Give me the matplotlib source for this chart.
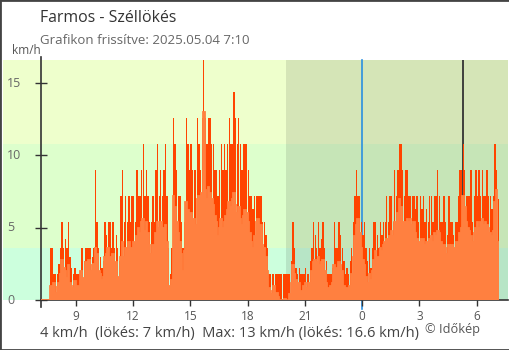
import numpy as np
import matplotlib
matplotlib.use('agg')
import matplotlib.pyplot as plt
import matplotlib.transforms as mtransforms
from matplotlib.patches import Rectangle

plt.rcParams['font.family'] = ['Open Sans', 'DejaVu Sans']

# 5-minute readings, 2025.05.03 7:10 -> 2025.05.04 7:10, one row per hour (km/h)
gust = [
    0, 0, 0, 0, 0, 0, 3.6, 3.6, 1.8, 1.8, 1.8, 2.5,               # 7:10
    3.6, 5.4, 3.6, 4.2, 3.6, 5.4, 3.0, 2.2, 1.8, 2.2, 1.8, 1.8,   # 8:10
    1.8, 3.6, 3.6, 2.7, 3.6, 3.6, 3.6, 3.6, 3.0, 3.6, 9.0, 5.4,   # 9:10
    3.6, 3.0, 2.2, 2.7, 5.4, 4.5, 5.4, 5.4, 3.6, 5.4, 3.6, 4.5,   # 10:10
    3.6, 2.7, 7.2, 9.0, 5.4, 7.2, 5.4, 7.2, 5.4, 7.2, 7.2, 5.4,   # 11:10
    9.0, 7.2, 7.2, 9.0, 10.8, 7.2, 9.0, 7.2, 5.4, 5.4, 7.2, 5.4,  # 12:10
    9.0, 10.8, 7.2, 9.0, 7.2, 9.0, 10.8, 7.2, 3.6, 1.8, 3.6, 12.6,  # 13:10
    10.8, 9.0, 7.2, 7.2, 5.4, 3.6, 5.4, 12.6, 10.8, 9.0, 10.8, 9.0,  # 14:10
    9.0, 9.0, 12.6, 10.8, 9.0, 12.6, 16.6, 12.6, 10.8, 12.6, 12.6, 10.8,  # 15:10
    10.8, 9.0, 9.0, 7.2, 9.0, 10.8, 9.0, 10.8, 9.0, 10.8, 12.6, 10.8,  # 16:10
    10.8, 14.4, 12.6, 10.8, 12.6, 10.8, 9.0, 10.8, 10.8, 10.8, 9.0, 7.2,  # 17:10
    7.2, 6.3, 7.2, 7.2, 7.2, 7.2, 7.2, 5.4, 5.4, 4.5, 3.6, 1.8,   # 18:10
    1.8, 1.8, 1.8, 1.8, 1.8, 1.8, 1.8, 1.8, 1.8, 1.8, 1.8, 1.8,   # 19:10
    1.8, 2.7, 5.4, 3.6, 2.2, 1.8, 2.2, 1.8, 1.8, 1.8, 2.2, 1.8,   # 20:10
    1.8, 2.7, 3.6, 5.4, 4.5, 3.6, 5.4, 3.6, 4.2, 5.4, 3.6, 2.7,   # 21:10
    1.8, 1.8, 1.8, 2.2, 5.4, 3.6, 3.6, 5.4, 4.5, 3.6, 2.7, 1.8,   # 22:10
    2.2, 1.8, 2.7, 3.6, 5.4, 7.2, 9.0, 7.2, 7.2, 5.4, 4.5, 5.4,   # 23:10
    3.6, 2.7, 3.6, 2.2, 3.6, 5.4, 5.4, 4.5, 3.6, 5.4, 4.5, 5.4,   # 0:10
    5.4, 7.2, 5.4, 7.2, 7.2, 5.4, 9.0, 7.2, 9.0, 10.8, 10.8, 9.0,  # 1:10
    7.2, 9.0, 9.0, 7.2, 7.2, 7.2, 7.2, 6.3, 7.2, 5.4, 7.2, 6.3,   # 2:10
    7.2, 5.4, 6.3, 5.4, 7.2, 7.2, 5.4, 7.2, 7.2, 9.0, 7.2, 5.4,   # 3:10
    5.4, 7.2, 5.4, 4.5, 7.2, 5.4, 5.4, 4.5, 5.4, 5.4, 7.2, 9.0,   # 4:10
    9.0, 10.8, 9.0, 7.2, 7.2, 7.2, 9.0, 5.4, 7.2, 9.0, 7.2, 9.0,  # 5:10
    7.2, 9.0, 7.2, 7.2, 9.0, 7.2, 7.2, 6.3, 7.2, 10.8, 9.0, 7.0,  # 6:10
]
wind = [
    0, 0, 0, 0, 0, 0, 1.0, 0.6, 1.2, 0.5, 0.9, 1.2,
    1.8, 2.8, 2.2, 2.0, 1.5, 2.4, 1.2, 1.0, 0.8, 1.3, 0.9, 1.0,
    1.0, 2.0, 1.5, 1.4, 2.6, 2.2, 2.8, 2.0, 2.4, 2.5, 3.6, 3.2,
    2.0, 1.8, 1.4, 1.6, 3.0, 3.2, 3.6, 3.0, 2.6, 3.2, 2.4, 2.6,
    1.6, 1.4, 3.0, 4.0, 3.0, 3.6, 3.6, 4.0, 3.4, 3.6, 4.0, 3.6,
    4.4, 5.0, 4.6, 5.4, 5.6, 4.8, 5.4, 4.6, 3.8, 3.2, 3.8, 3.6,
    4.6, 5.4, 5.0, 5.4, 4.4, 5.0, 5.2, 4.0, 1.0, 0.3, 1.4, 7.2,
    6.4, 5.4, 4.6, 4.0, 3.2, 2.0, 3.4, 6.8, 6.2, 5.6, 6.0, 5.4,
    5.6, 5.2, 7.0, 7.2, 6.6, 7.4, 13.0, 7.6, 7.0, 7.8, 7.4, 7.0,
    6.6, 5.8, 5.4, 4.4, 5.0, 5.6, 5.0, 5.4, 5.8, 6.2, 6.8, 6.4,
    7.0, 7.4, 6.6, 6.0, 6.4, 5.6, 5.2, 5.8, 6.2, 6.0, 5.4, 4.6,
    4.0, 3.6, 4.4, 5.4, 5.6, 5.0, 5.2, 3.8, 3.6, 3.0, 2.0, 0.8,
    0.6, 0.4, 1.0, 0.3, 0.5, 0.2, 0.0, 0.0, 0.0, 0.1, 0.0, 0.0,
    0.4, 1.2, 2.4, 1.8, 1.4, 1.0, 1.2, 0.6, 0.3, 1.0, 1.2, 0.8,
    1.2, 1.0, 2.0, 2.6, 2.8, 2.6, 3.0, 2.4, 2.6, 2.8, 2.0, 1.2,
    0.8, 0.5, 1.0, 1.2, 2.4, 2.2, 1.8, 2.6, 2.4, 2.0, 1.0, 0.6,
    0.8, 0.5, 1.0, 1.8, 3.0, 4.4, 5.2, 5.6, 4.6, 3.6, 2.8, 2.4,
    1.6, 1.2, 1.8, 1.4, 2.0, 2.8, 3.4, 3.0, 3.0, 3.6, 3.4, 3.8,
    4.0, 4.2, 4.0, 4.4, 4.8, 4.4, 5.4, 5.0, 6.0, 7.0, 6.4, 5.4,
    4.6, 5.4, 5.6, 5.4, 5.6, 5.2, 5.4, 4.6, 4.2, 4.0, 4.0, 4.2,
    4.2, 3.8, 4.0, 4.0, 4.2, 4.4, 4.0, 4.6, 4.4, 4.8, 4.6, 4.0,
    3.6, 3.8, 3.6, 3.2, 3.8, 3.6, 3.8, 3.4, 3.6, 4.0, 4.0, 4.6,
    5.0, 7.2, 6.4, 5.4, 5.0, 4.8, 4.4, 4.0, 4.6, 5.0, 5.4, 5.0,
    5.4, 5.6, 5.2, 5.4, 5.2, 5.0, 4.6, 4.4, 4.8, 6.8, 7.6, 4.0,
]

start = 7 + 10 / 60          # first reading, hours from midnight
step = 5 / 60
sunset, sunrise = 20.0, 29 + 17 / 60
hour_ticks = [9, 12, 15, 18, 21, 24, 27, 30]
hour_labels = ['9', '12', '15', '18', '21', '0', '3', '6']
y_ticks = [0, 5, 10, 15]
# Beaufort-like bands in km/h
bands = [(0, 3.6, '#ccffdd'), (3.6, 10.8, '#ddffcc'), (10.8, 16.6, '#eeffcc')]

edges = start + np.arange(len(gust) + 1) * step
centers = edges[:-1] + step / 2
xmin, xmax = start - 1.97, edges[-1] + 0.47
ymax = max(gust)

fig = plt.figure(figsize=(5.1, 3.5), dpi=100)
ax = fig.add_axes([3 / 510, 50 / 350, 505 / 510, 240 / 350])
ax.set_xlim(xmin, xmax)
ax.set_ylim(0, ymax)

for lo, hi, c in bands:
    ax.axhspan(lo, hi, color=c, lw=0, zorder=0)
ax.axvspan(sunset, xmax, color='black', alpha=0.1, lw=0, zorder=0.5)
ax.axvline(sunrise, color='#333333', lw=1.3, zorder=1)
ax.plot([24, 24], [-0.6, ymax], color='#2a8fe0', lw=1.2, zorder=1, clip_on=False)

# gusts as thin spikes, mean wind as a filled step area in front
ax.bar(centers, gust, width=step * 0.85, color='#ff4400', lw=0, zorder=2)
ax.stairs(wind, edges, fill=True, color='#ff8040', lw=0, zorder=3)
ax.stairs(wind, edges, baseline=None, color='#ff8040', lw=1.3, zorder=3)

for s in ['top', 'right']:
    ax.spines[s].set_visible(False)
ax.spines['left'].set_position(('data', start))
ax.spines['left'].set_bounds(-0.45, ymax + 0.2)
ax.spines['bottom'].set_bounds(start, xmax)
for s in ['left', 'bottom']:
    ax.spines[s].set_color('#333333')
    ax.spines[s].set_linewidth(1.2)

ax.set_yticks(y_ticks)
ax.tick_params(axis='y', direction='inout', length=9, width=1, color='#333333', labelleft=False)
ax.set_xticks(hour_ticks)
ax.set_xticklabels(hour_labels)
ax.tick_params(axis='x', direction='out', length=4, width=1, color='#333333',
               labelsize=8.5, labelcolor='#555555', pad=3)

ylab_tr = mtransforms.blended_transform_factory(fig.transFigure, ax.transData)
for v in y_ticks:
    ax.text(7 / 510, v, str(v), transform=ylab_tr, ha='left', va='center',
            fontsize=9, color='#666666')

fig.text(12 / 510, 1 - 51 / 350, 'km/h', ha='left', va='center', fontsize=8.5, color='#555555')
fig.text(40 / 510, 1 - 18 / 350, 'Farmos - Széllökés', ha='left', va='center', fontsize=11.4, color='#333333')
fig.text(40 / 510, 1 - 40 / 350, 'Grafikon frissítve: 2025.05.04 7:10', ha='left', va='center',
         fontsize=9.5, color='#666666')
fig.text(40 / 510, 1 - 333 / 350, '4 km/h  (lökés: 7 km/h)  Max: 13 km/h (lökés: 16.6 km/h)',
         ha='left', va='center', fontsize=10.5, color='#444444')
fig.text(425 / 510, 1 - 329 / 350, '© Időkép', ha='left', va='center', fontsize=9.2, color='#555555')

fig.patches.append(Rectangle((0, 0), 1, 1, transform=fig.transFigure, fill=False,
                             edgecolor='#444444', lw=2))

fig.savefig('out.png', dpi=100)
